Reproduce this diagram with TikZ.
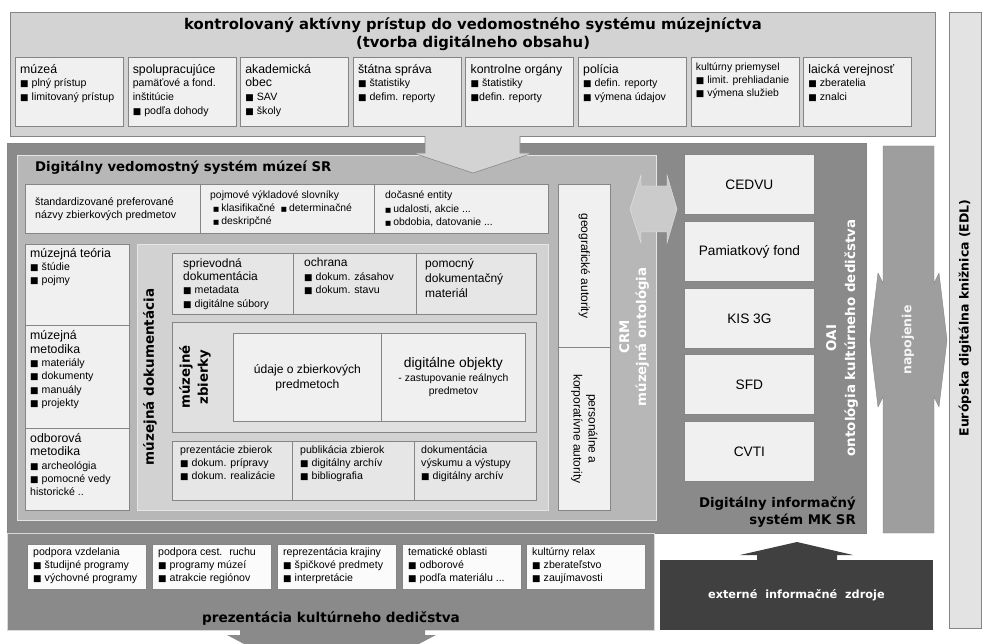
\documentclass[tikz,border=0pt]{standalone}
\usepackage{fontspec}
\setmainfont{Liberation Sans}
\newfontfamily\titlefont{DejaVu Sans}
\newfontfamily\bulfont{DejaVu Sans}
\usetikzlibrary{positioning}
\pgfdeclarelayer{backlayer}
\pgfdeclarelayer{boxlayer}
\pgfsetlayers{backlayer,boxlayer,main}
\definecolor{topgray}{HTML}{D3D3D3}
\definecolor{edlgray}{HTML}{E3E3E3}
\definecolor{mkgray}{HTML}{8A8A8A}
\definecolor{dvsgray}{HTML}{B7B7B7}
\definecolor{docgray}{HTML}{D2D2D2}
\definecolor{zbgray}{HTML}{E0E0E0}
\definecolor{cellgray}{HTML}{F0F0F0}
\definecolor{extgray}{HTML}{404040}
\definecolor{napgray}{HTML}{9E9E9E}
\definecolor{crmgray}{HTML}{CBCBCB}
\definecolor{lineg}{HTML}{858585}
\tikzstyle{none}=[inner sep=0pt]
\tikzstyle{panel}=[rectangle,anchor=north west,inner sep=0pt,draw=lineg,line width=0.8pt]
\tikzstyle{cell}=[panel,fill=cellgray]
\tikzstyle{txt}=[anchor=north west,inner sep=0pt,align=left,font=\fontsize{10.6}{13.6}\selectfont]
\tikzstyle{bigtxt}=[anchor=north west,inner sep=0pt,align=left,font=\fontsize{12}{15}\selectfont]
\tikzstyle{celltxt}=[align=center,font=\fontsize{13.7}{15}\selectfont]
\tikzstyle{title}=[inner sep=0pt,align=center,font=\titlefont\bfseries\fontsize{14.8}{18}\selectfont]
\tikzstyle{subtitle}=[inner sep=0pt,align=center,font=\titlefont\bfseries\fontsize{13.3}{17}\selectfont]
\tikzstyle{whitetitle}=[subtitle,text=white]
\tikzstyle{vtxt}=[inner sep=0pt,align=center,font=\fontsize{12}{15}\selectfont]
\newcommand{\hd}[1]{{\fontsize{12.3}{13.6}\selectfont #1}}
\newcommand{\hdb}[1]{{\fontsize{12}{13.6}\selectfont #1}}
\newcommand{\bul}{{\bulfont\fontsize{9}{10}\selectfont ■}\hspace{3pt}}
\newcommand{\sbul}{{\bulfont\fontsize{6.5}{10}\selectfont ■}\hspace{2pt}}

\begin{document}
\begin{tikzpicture}[x=1pt,y=-1pt]
	\useasboundingbox (0,0) rectangle (985,644);
	\begin{pgfonlayer}{backlayer}
		\node [style=panel, fill=topgray, minimum width=925pt, minimum height=124pt] (access) at (10, 12) {};
		\node [style=panel, fill=edlgray, minimum width=32pt, minimum height=616pt] (edl) at (949, 12) {};
		\node [style=panel, fill=mkgray, minimum width=859pt, minimum height=390pt] (mksr) at (7, 143) {};
		\node [style=panel, fill=mkgray, draw=white!70!gray, minimum width=647pt, minimum height=97pt] (prez) at (7, 533) {};
		\node [style=panel, fill=extgray, draw=extgray, minimum width=272pt, minimum height=69pt] (ext) at (660, 560) {};
	\end{pgfonlayer}
	\begin{pgfonlayer}{boxlayer}
		\node [style=panel, fill=dvsgray, draw=white!80!gray, minimum width=639pt, minimum height=365pt] (dvs) at (17, 155) {};
		\node [style=panel, fill=docgray, draw=white!80!gray, minimum width=411pt, minimum height=266pt] (doc) at (137, 244) {};
		\node [style=panel, fill=zbgray, minimum width=364pt, minimum height=110pt] (zb) at (172, 322) {};
	\end{pgfonlayer}

	% block arrows
	\fill [topgray] (425, 135) -- (425, 153) -- (413, 153) -- (473, 173) -- (533, 153) -- (520, 153) -- (520, 135) -- cycle;
	\draw [lineg, line width=0.6pt] (425, 136) -- (425, 153) -- (413, 153) -- (473, 173) -- (533, 153) -- (520, 153) -- (520, 136);
	\filldraw [fill=crmgray, draw=white!80!gray] (630, 209) -- (641, 175) -- (641, 186) -- (667, 186) -- (667, 175) -- (677, 209) -- (667, 243) -- (667, 232) -- (641, 232) -- (641, 243) -- cycle;
	\filldraw [fill=napgray, draw=lineg] (883, 146) -- (934, 146) -- (934, 283) -- (939, 273) -- (947, 340) -- (939, 407) -- (934, 397) -- (934, 533) -- (883, 533) -- (883, 397) -- (878, 407) -- (870, 340) -- (878, 273) -- (883, 283) -- cycle;
	\fill [extgray] (757, 561) -- (757, 555) -- (740, 555) -- (797, 542) -- (853, 555) -- (837, 555) -- (837, 561) -- cycle;
	\begin{scope}
		\clip (0, 0) rectangle (985, 644);
		\fill [mkgray] (240, 629) -- (425, 629) -- (425, 635) -- (436, 635) -- (331, 690) -- (227, 635) -- (240, 635) -- cycle;
	\end{scope}

	% access boxes
	\node [style=title] (access-t) at (473, 34) {kontrolovaný aktívny prístup do vedomostného systému múzejníctva\\(tvorba digitálneho obsahu)};
	\node [style=cell, minimum width=108pt, minimum height=69pt] (muzea) at (15, 57) {};
	\node [style=cell, minimum width=108pt, minimum height=69pt] (spolu) at (127.6, 57) {};
	\node [style=cell, minimum width=108pt, minimum height=69pt] (akad) at (240.2, 57) {};
	\node [style=cell, minimum width=108pt, minimum height=69pt] (statna) at (352.8, 57) {};
	\node [style=cell, minimum width=108pt, minimum height=69pt] (kontr) at (465.4, 57) {};
	\node [style=cell, minimum width=108pt, minimum height=69pt] (policia) at (578, 57) {};
	\node [style=cell, minimum width=108pt, minimum height=69pt] (priem) at (690.6, 57) {};
	\node [style=cell, minimum width=108pt, minimum height=69pt] (laicka) at (803.2, 57) {};
	\node [style=txt, below right=7pt and 5pt of muzea.north west] (muzea-t) {\hd{múzeá}\\\bul plný prístup\\\bul limitovaný prístup};
	\node [style=txt, below right=7pt and 5pt of spolu.north west] (spolu-t) {\hd{spolupracujúce}\\pamäťové a fond.\\inštitúcie\\\bul podľa dohody};
	\node [style=txt, below right=7pt and 5pt of akad.north west] (akad-t) {\hd{akademická}\\\hd{obec}\\\bul SAV\\\bul školy};
	\node [style=txt, below right=7pt and 5pt of statna.north west] (statna-t) {\hd{štátna správa}\\\bul štatistiky\\\bul defim. reporty};
	\node [style=txt, below right=7pt and 5pt of kontr.north west] (kontr-t) {\hd{kontrolne orgány}\\\bul štatistiky\\{\bulfont\fontsize{9}{10}\selectfont ■}defin. reporty};
	\node [style=txt, below right=7pt and 5pt of policia.north west] (policia-t) {\hd{polícia}\\\bul defin. reporty\\\bul výmena údajov};
	\node [style=txt, below right=6pt and 5pt of priem.north west, font=\fontsize{10.4}{13}\selectfont] (priem-t) {kultúrny priemysel\\\bul limit. prehliadanie\\\bul výmena služieb};
	\node [style=txt, below right=7pt and 5pt of laicka.north west] (laicka-t) {\hd{laická verejnosť}\\\bul zberatelia\\\bul znalci};

	% digitalny vedomostny system
	\node [style=subtitle, anchor=west] (dvs-t) at (35, 168) {Digitálny vedomostný systém múzeí SR};
	\node [style=cell, minimum width=175pt, minimum height=49pt] (stand) at (25, 184) {};
	\node [style=cell, minimum width=174pt, minimum height=49pt] (pojm) at (200, 184) {};
	\node [style=cell, minimum width=174pt, minimum height=49pt] (docas) at (374, 184) {};
	\node [style=cell, minimum width=52pt, minimum height=163pt] (geo) at (558, 184) {};
	\node [style=cell, minimum width=52pt, minimum height=163pt] (pers) at (558, 347) {};
	\node [style=txt, right=10pt of stand.west, font=\fontsize{10.7}{13}\selectfont] (stand-t) {štandardizované preferované\\názvy zbierkových predmetov};
	\node [style=txt, below right=7pt and 10pt of pojm.north west, font=\fontsize{10.4}{12.8}\selectfont] (pojm-t) {pojmové výkladové slovníky\\\hspace{3pt}\sbul klasifikačné \ \sbul determinačné\\\hspace{3pt}\sbul deskripčné};
	\node [style=txt, below right=7pt and 11pt of docas.north west, font=\fontsize{10.4}{13.2}\selectfont] (docas-t) {dočasné entity\\\sbul udalosti, akcie ...\\\sbul obdobia, datovanie ...};
	\node [style=vtxt, rotate=-90] (geo-t) at (geo.center) {geografické autority};
	\node [style=vtxt, rotate=-90] (pers-t) at (pers.center) {personálne a\\korporatívne autority};

	\node [style=cell, minimum width=104pt, minimum height=81pt] (teoria) at (25, 244) {};
	\node [style=cell, minimum width=104pt, minimum height=103pt] (metod) at (25, 325) {};
	\node [style=cell, minimum width=104pt, minimum height=82pt] (odbor) at (25, 428) {};
	\node [style=txt, below right=4pt and 5pt of teoria.north west, font=\fontsize{10.6}{13}\selectfont] (teoria-t) {\hd{múzejná teória}\\\bul štúdie\\\bul pojmy};
	\node [style=txt, below right=5.5pt and 5pt of metod.north west, font=\fontsize{10.6}{13.4}\selectfont] (metod-t) {\hd{múzejná}\\\hd{metodika}\\\bul materiály\\\bul dokumenty\\\bul manuály\\\bul projekty};
	\node [style=txt, below right=5.5pt and 5pt of odbor.north west, font=\fontsize{10.6}{13.2}\selectfont] (odbor-t) {\hd{odborová}\\\hd{metodika}\\\bul archeológia\\\bul pomocné vedy\\historické ..};

	% muzejna dokumentacia
	\node [style=subtitle, rotate=90, font=\titlefont\bfseries\fontsize{13.5}{17}\selectfont] (doc-t) at (150, 377) {múzejná dokumentácia};
	\node [style=cell, fill=zbgray!60!cellgray, minimum width=121pt, minimum height=61pt] (sprievod) at (172, 253) {};
	\node [style=cell, fill=zbgray!60!cellgray, minimum width=123pt, minimum height=61pt] (ochrana) at (293, 253) {};
	\node [style=cell, fill=zbgray!60!cellgray, minimum width=120pt, minimum height=61pt] (pomoc) at (416, 253) {};
	\node [style=txt, below right=5pt and 11pt of sprievod.north west, font=\fontsize{10.6}{13.4}\selectfont] (sprievod-t) {\hdb{sprievodná}\\\hdb{dokumentácia}\\\bul metadata\\\bul digitálne súbory};
	\node [style=txt, below right=5pt and 11pt of ochrana.north west, font=\fontsize{10.6}{13.4}\selectfont] (ochrana-t) {\hdb{ochrana}\\\bul dokum. zásahov\\\bul dokum. stavu};
	\node [style=bigtxt, below right=5.5pt and 9pt of pomoc.north west] (pomoc-t) {pomocný\\dokumentačný\\materiál};

	\node [style=subtitle, rotate=90, font=\titlefont\bfseries\fontsize{13.3}{18}\selectfont] (zb-t) at (195, 377) {múzejné\\zbierky};
	\node [style=cell, minimum width=148pt, minimum height=88pt, style=celltxt, font=\fontsize{12.1}{15}\selectfont] (udaje) at (233, 333) {údaje o zbierkových\\predmetoch};
	\node [style=cell, minimum width=144pt, minimum height=88pt, style=celltxt, font=\fontsize{10.4}{13.5}\selectfont] (digit) at (381, 333) {{\fontsize{13.8}{13.5}\selectfont digitálne objekty}\\- zastupovanie reálnych\\predmetov};

	\node [style=cell, fill=zbgray!60!cellgray, minimum width=120pt, minimum height=59pt] (prezz) at (172, 441) {};
	\node [style=cell, fill=zbgray!60!cellgray, minimum width=122pt, minimum height=59pt] (publ) at (292, 441) {};
	\node [style=cell, fill=zbgray!60!cellgray, minimum width=122pt, minimum height=59pt] (vysk) at (414, 441) {};
	\node [style=txt, below right=4pt and 8pt of prezz.north west, font=\fontsize{10.6}{13}\selectfont] (prezz-t) {prezentácie zbierok\\\bul dokum. prípravy\\\bul dokum. realizácie};
	\node [style=txt, below right=4pt and 8pt of publ.north west, font=\fontsize{10.6}{13}\selectfont] (publ-t) {publikácia zbierok\\\bul digitálny archív\\\bul bibliografia};
	\node [style=txt, below right=4pt and 7pt of vysk.north west, font=\fontsize{10.6}{13}\selectfont] (vysk-t) {dokumentácia\\výskumu a výstupy\\\bul digitálny archív};

	% CRM and MK SR
	\node [style=whitetitle, rotate=90, font=\titlefont\bfseries\fontsize{13.3}{17}\selectfont] (crm-t) at (634, 337) {CRM\\múzejná ontológia};
	\node [style=cell, style=celltxt, minimum width=130pt, minimum height=60pt] (cedvu) at (684, 154) {CEDVU};
	\node [style=cell, style=celltxt, minimum width=130pt, minimum height=60pt] (pfond) at (684, 221) {Pamiatkový fond};
	\node [style=cell, style=celltxt, minimum width=130pt, minimum height=60pt] (kis) at (684, 288) {KIS 3G};
	\node [style=cell, style=celltxt, minimum width=130pt, minimum height=60pt] (sfd) at (684, 354) {SFD};
	\node [style=cell, style=celltxt, minimum width=130pt, minimum height=60pt] (cvti) at (684, 421) {CVTI};
	\node [style=whitetitle, rotate=90, font=\titlefont\bfseries\fontsize{13.4}{19}\selectfont] (oai-t) at (842, 338) {OAI\\ontológia kultúrneho dedičstva};
	\node [style=subtitle, align=right, anchor=east] (mksr-t) at (856, 512) {Digitálny informačný\\systém MK SR};
	\node [style=whitetitle, rotate=90, text=white!92!gray, font=\titlefont\bfseries\fontsize{12.5}{17}\selectfont] (nap-t) at (908, 340) {napojenie};
	\node [style=title, rotate=90, font=\titlefont\bfseries\fontsize{12.5}{17}\selectfont] (edl-t) at (965, 318) {Európska digitálna knižnica (EDL)};

	% prezentacia
	\node [style=cell, fill=white!97!gray, minimum width=119pt, minimum height=45pt] (vzdel) at (27, 544) {};
	\node [style=cell, fill=white!97!gray, minimum width=119pt, minimum height=45pt] (cest) at (152, 544) {};
	\node [style=cell, fill=white!97!gray, minimum width=119pt, minimum height=45pt] (kraj) at (277, 544) {};
	\node [style=cell, fill=white!97!gray, minimum width=119pt, minimum height=45pt] (tema) at (402, 544) {};
	\node [style=cell, fill=white!97!gray, minimum width=119pt, minimum height=45pt] (relax) at (526, 544) {};
	\node [style=txt, below right=3.5pt and 6pt of vzdel.north west, font=\fontsize{10.6}{13}\selectfont] (vzdel-t) {podpora vzdelania\\\bul študijné programy\\\bul výchovné programy};
	\node [style=txt, below right=3.5pt and 6pt of cest.north west, font=\fontsize{10.6}{13}\selectfont] (cest-t) {podpora cest. \ ruchu\\\bul programy múzeí\\\bul atrakcie regiónov};
	\node [style=txt, below right=3.5pt and 6pt of kraj.north west, font=\fontsize{10.6}{13}\selectfont] (kraj-t) {reprezentácia krajiny\\\bul špičkové predmety\\\bul interpretácie};
	\node [style=txt, below right=3.5pt and 6pt of tema.north west, font=\fontsize{10.6}{13}\selectfont] (tema-t) {tematické oblasti\\\bul odborové\\\bul podľa materiálu ...};
	\node [style=txt, below right=3.5pt and 6pt of relax.north west, font=\fontsize{10.6}{13}\selectfont] (relax-t) {kultúrny relax\\\bul zberateľstvo\\\bul zaujímavosti};
	\node [style=subtitle, font=\titlefont\bfseries\fontsize{13.6}{17}\selectfont] (prez-t) at (331, 618) {prezentácia kultúrneho dedičstva};
	\node [style=whitetitle, font=\titlefont\bfseries\fontsize{11.3}{14}\selectfont] (ext-t) at (ext.center) {externé \ informačné \ zdroje};
\end{tikzpicture}
\end{document}
